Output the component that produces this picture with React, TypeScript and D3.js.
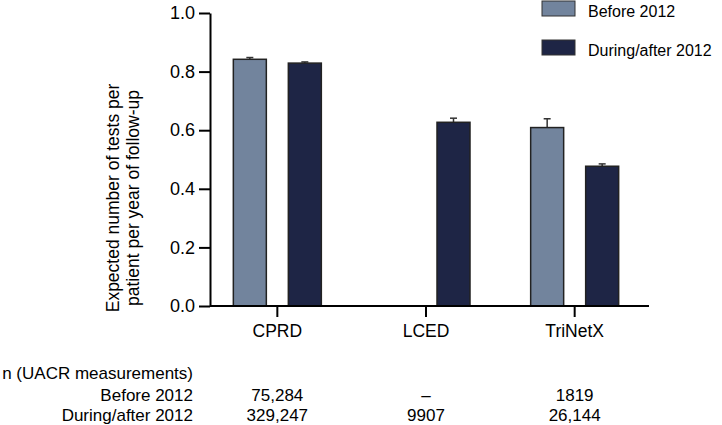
import React, { useEffect, useRef } from 'react';
import * as d3 from 'd3';

const categories = ['CPRD', 'LCED', 'TriNetX'];
const seriesNames = ['Before 2012', 'During/after 2012'];
const seriesColors = ['#72849d', '#1e2545'];
const beforeValues = [0.842, null, 0.609];
const beforeErrors = [0.006, null, 0.03];
const afterValues = [0.829, 0.627, 0.477];
const afterErrors = [0.004, 0.014, 0.008];
const yTicks = [0, 0.2, 0.4, 0.6, 0.8, 1.0];
const nBefore = ['75,284', '\u2013', '1819'];
const nAfter = ['329,247', '9907', '26,144'];

const FONT = '"Liberation Sans", Arial, Helvetica, sans-serif';

export default function App() {
  const ref = useRef<SVGSVGElement>(null);

  useEffect(() => {
    const svg = d3.select(ref.current);
    svg.selectAll('*').remove();

    const y = d3.scaleLinear().domain([0, 1]).range([306, 13]);
    const x0 = d3.scaleBand().domain(categories).range([203, 649]).paddingInner(0).paddingOuter(0);
    const x1 = d3.scaleBand().domain(seriesNames).range([-44, 44]).paddingInner(0.4).paddingOuter(0);

    const rows = categories.map((c, i) => ({
      cat: c,
      bars: [
        { s: seriesNames[0], v: beforeValues[i], e: beforeErrors[i], color: seriesColors[0] },
        { s: seriesNames[1], v: afterValues[i], e: afterErrors[i], color: seriesColors[1] },
      ],
    }));

    // bars + error bars
    const g = svg.append('g');
    const groups = g.selectAll('g.grp').data(rows).join('g')
      .attr('class', 'grp')
      .attr('transform', d => `translate(${x0(d.cat)! + x0.bandwidth() / 2},0)`);

    const bars = groups.selectAll('g.bar').data(d => d.bars.filter(b => b.v != null)).join('g').attr('class', 'bar');

    bars.append('line')
      .attr('x1', d => x1(d.s)! + x1.bandwidth() / 2)
      .attr('x2', d => x1(d.s)! + x1.bandwidth() / 2)
      .attr('y1', d => y(d.v as number))
      .attr('y2', d => y((d.v as number) + (d.e as number)))
      .attr('stroke', '#333').attr('stroke-width', 1.5);
    bars.append('line')
      .attr('x1', d => x1(d.s)! + x1.bandwidth() / 2 - 3.5)
      .attr('x2', d => x1(d.s)! + x1.bandwidth() / 2 + 3.5)
      .attr('y1', d => y((d.v as number) + (d.e as number)))
      .attr('y2', d => y((d.v as number) + (d.e as number)))
      .attr('stroke', '#333').attr('stroke-width', 1.5);

    bars.append('rect')
      .attr('x', d => x1(d.s)!)
      .attr('width', x1.bandwidth())
      .attr('y', d => y(d.v as number))
      .attr('height', d => y(0) - y(d.v as number))
      .attr('fill', d => d.color)
      .attr('stroke', '#222').attr('stroke-width', 1.5);

    // y axis
    const yAxis = svg.append('g').attr('transform', 'translate(210,0)')
      .call(d3.axisLeft(y).tickValues(yTicks).tickFormat(d3.format('.1f')).tickSize(11).tickSizeOuter(0).tickPadding(4));
    yAxis.select('.domain').attr('stroke', '#000').attr('stroke-width', 2);
    yAxis.selectAll('.tick line').attr('stroke', '#000').attr('stroke-width', 2);
    yAxis.selectAll('.tick text').attr('font-family', FONT).attr('font-size', 18).attr('fill', '#000');

    // x axis
    const xAxis = svg.append('g').attr('transform', 'translate(0,306)')
      .call(d3.axisBottom(x0).tickSize(11).tickSizeOuter(0).tickPadding(8));
    xAxis.select('.domain').attr('d', 'M210,0H649').attr('stroke', '#000').attr('stroke-width', 2);
    xAxis.selectAll('.tick line').attr('stroke', '#000').attr('stroke-width', 2);
    xAxis.selectAll('.tick text').attr('font-family', FONT).attr('font-size', 17.5).attr('fill', '#000');

    // y label
    const yl = svg.append('text')
      .attr('transform', 'translate(0,198) rotate(-90)')
      .attr('text-anchor', 'middle')
      .attr('font-family', FONT).attr('font-size', 17.5).attr('fill', '#000');
    yl.append('tspan').attr('x', 0).attr('y', 119).text('Expected number of tests per');
    yl.append('tspan').attr('x', 0).attr('y', 139).text('patient per year of follow-up');

    // legend
    const lg = svg.append('g');
    seriesNames.forEach((s, i) => {
      lg.append('rect').attr('x', 542).attr('y', 1 + i * 39).attr('width', 33).attr('height', 15)
        .attr('fill', seriesColors[i]).attr('stroke', '#333').attr('stroke-width', 1);
      lg.append('text').attr('x', 588).attr('y', 17 + i * 39)
        .attr('font-family', FONT).attr('font-size', 16).attr('fill', '#000').text(s);
    });

    // n table
    const tb = svg.append('g').attr('font-family', FONT).attr('font-size', 17).attr('fill', '#000');
    tb.append('text').attr('x', 193).attr('y', 379).attr('text-anchor', 'end').text('n (UACR measurements)');
    tb.append('text').attr('x', 193).attr('y', 401).attr('text-anchor', 'end').text('Before 2012');
    tb.append('text').attr('x', 193).attr('y', 421).attr('text-anchor', 'end').text('During/after 2012');
    categories.forEach((c, i) => {
      const cx = x0(c)! + x0.bandwidth() / 2;
      tb.append('text').attr('x', cx).attr('y', 401).attr('text-anchor', 'middle').text(nBefore[i]);
      tb.append('text').attr('x', cx).attr('y', 421).attr('text-anchor', 'middle').text(nAfter[i]);
    });
  }, []);

  return (
    <svg ref={ref} width={722} height={425}
      style={{ position: 'absolute', left: 0, top: 0, background: '#fff' }} />
  );
}
